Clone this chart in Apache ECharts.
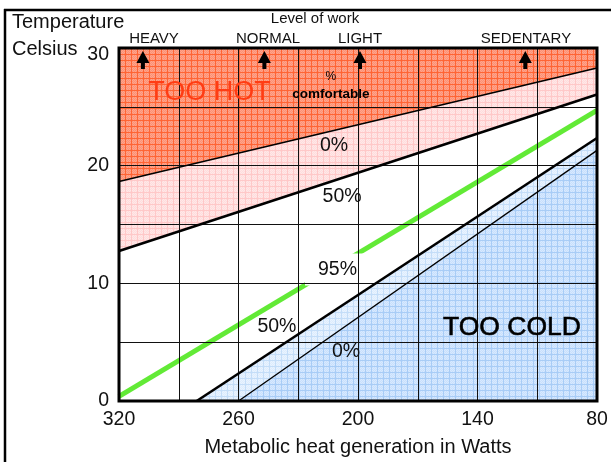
<!DOCTYPE html>
<html><head><meta charset="utf-8">
<script src="https://cdn.jsdelivr.net/npm/echarts@6/dist/echarts.min.js"></script>
<style>html,body{margin:0;padding:0;background:#fff}#c{width:611px;height:462px}</style>
</head><body><div id="c"></div>
<script>
// ---- data ----
const X_MIN = 80, X_MAX = 320, Y_MIN = 0, Y_MAX = 30;
const xTickLabels = [80, 140, 200, 260, 320];
const yTickLabels = [0, 10, 20, 30];
// boundary lines [watts, °C]
const hot0   = [[320, 18.66], [80, 28.3]];   // 0% comfortable (too hot side)
const hot50  = [[320, 12.75], [80, 26.05]];  // 50% comfortable (warm side)
const green95 = [[320, 0.4], [80, 24.7]];    // 95% comfortable
const cold50 = [[281, 0], [80, 22.35]];      // 50% comfortable (cool side)
const cold0  = [[260, 0], [80, 21.3]];       // 0% comfortable (too cold side)
// levels of work
const workNames = ['HEAVY', 'NORMAL', 'LIGHT', 'SEDENTARY'];
const workWatts = [308, 247, 199, 116];
// in-plot annotations (anchor in watts / °C)
const noteText  = ['TOO HOT', '%', 'comfortable', '0%', '50%', '50%', '0%', 'TOO COLD'];
const noteWatts = [274.6, 213.6, 213.6, 212, 208, 240.7, 206, 122.7];
const noteTemp  = [26.2, 27.55, 26.05, 21.7, 17.4, 6.3, 4.2, 6.22];
const label95Text = '95%', label95Watts = 211.55, label95Temp = 11.18;

// ---- styles ----
const FONT = '"Liberation Sans", Arial, sans-serif';
const noteStyles = [
  {fontSize: 27, color: '#ff3c14'},
  {fontSize: 12, color: '#000'},
  {fontSize: 13.5, color: '#000', fontWeight: 'bold'},
  {fontSize: 19.5, color: '#111'},
  {fontSize: 19.5, color: '#111'},
  {fontSize: 19.5, color: '#111'},
  {fontSize: 19.5, color: '#111'},
  {fontSize: 26.5, color: '#000', textBorderColor: '#000', textBorderWidth: 0.6}
];

function gridPattern(base, tex, line) {
  const c = document.createElement('canvas');
  c.width = 60; c.height = 60;
  const g = c.getContext('2d');
  g.fillStyle = base; g.fillRect(0, 0, 60, 60);
  g.fillStyle = tex;
  for (let y = 0; y < 60; y++) for (let x = y % 2; x < 60; x += 2) g.fillRect(x, y, 1, 1);
  g.fillStyle = line;
  for (let i = 0; i < 60; i += 6) { g.fillRect(i, 0, 1, 60); g.fillRect(0, i, 60, 1); }
  return {image: c, repeat: 'repeat', x: 119, y: 48};
}
const fillHot = gridPattern('#ffa48b', '#fc9074', '#ff6434');
const fillWarm = gridPattern('#ffe8e8', '#ffdcdc', '#ffc8c8');
const fillCool = gridPattern('#e9f3ff', '#ddecfd', '#c4ddf8');
const fillCold = gridPattern('#d7e9ff', '#c8dffc', '#a8ccf6');

const regions = [
  {pts: [hot0[0], hot0[1], [X_MIN, Y_MAX], [X_MAX, Y_MAX]], fill: fillHot},
  {pts: [hot50[0], hot50[1], hot0[1], hot0[0]], fill: fillWarm},
  {pts: [cold50[0], cold50[1], cold0[1], cold0[0]], fill: fillCool},
  {pts: [cold0[0], cold0[1], [X_MIN, Y_MIN]], fill: fillCold}
];

function lineSeries(data, color, width, z) {
  return {type: 'line', data: data, symbol: 'none', silent: true, z: z,
    lineStyle: {color: color, width: width, cap: 'butt'}, animation: false};
}

const chart = echarts.init(document.getElementById('c'), null, {renderer: 'canvas'});
chart.setOption({
  animation: false,
  textStyle: {fontFamily: FONT},
  grid: {left: 119, right: 14, top: 48, bottom: 57, show: true, borderColor: '#000',
         borderWidth: 3, backgroundColor: 'transparent', z: 7},
  xAxis: {
    type: 'value', inverse: true, min: X_MIN, max: X_MAX, interval: 30, z: 4,
    axisLine: {show: false}, axisTick: {show: false},
    splitLine: {show: true, lineStyle: {color: '#111', width: 1}},
    axisLabel: {formatter: v => xTickLabels.includes(v) ? String(v) : '', fontSize: 19.5,
      color: '#111', margin: 9, fontFamily: FONT, showMinLabel: true, showMaxLabel: true},
    name: 'Metabolic heat generation in Watts', nameLocation: 'middle', nameGap: 36,
    nameTextStyle: {fontSize: 20, color: '#111', fontFamily: FONT}
  },
  yAxis: {
    type: 'value', min: Y_MIN, max: Y_MAX, interval: 5, z: 4,
    axisLine: {show: false}, axisTick: {show: false},
    splitLine: {show: true, lineStyle: {color: '#111', width: 1}},
    axisLabel: {formatter: v => v === Y_MAX ? '{lo|' + v + '}' : (yTickLabels.includes(v) ? String(v) : ''),
      fontSize: 19.5, color: '#111', margin: 10, fontFamily: FONT,
      rich: {lo: {fontSize: 19.5, color: '#111', fontFamily: FONT, padding: [14, 0, 0, 0]}}}
  },
  series: [
    {type: 'custom', z: 1, silent: true, clip: true,
      data: regions.map(r => r.pts[0]),
      renderItem: (params, api) => {
        const r = regions[params.dataIndex];
        return {type: 'polygon', shape: {points: r.pts.map(p => api.coord(p))}, style: {fill: r.fill}};
      }},
    lineSeries(green95, '#62ea36', 5, 2),
    {type: 'scatter', z: 3, silent: true, symbolSize: 0, itemStyle: {opacity: 1},
      data: [[label95Watts, label95Temp]],
      label: {show: true, position: 'inside', formatter: label95Text, fontSize: 19.5, color: '#111',
        fontFamily: FONT, backgroundColor: '#fff', padding: [7, 8, 5, 13]}},
    lineSeries(hot0, '#000', 1.5, 5),
    lineSeries(hot50, '#000', 2.6, 5),
    lineSeries(cold50, '#000', 2.6, 5),
    lineSeries(cold0, '#000', 1.3, 5),
    {type: 'scatter', z: 6, silent: true, symbolSize: 0, itemStyle: {opacity: 1},
      data: noteText.map((t, i) => ({value: [noteWatts[i], noteTemp[i]], name: t,
        label: Object.assign({show: true, position: 'inside', formatter: t, fontFamily: FONT}, noteStyles[i])}))},
    {type: 'custom', z: 6, silent: true, clip: false,
      data: workWatts.map(w => [w, Y_MAX]),
      renderItem: (params, api) => {
        const p = api.coord([api.value(0), api.value(1)]);
        const x = p[0], y = p[1] + 3;
        return {type: 'polygon', shape: {points: [[x, y], [x + 6.5, y + 12], [x + 2, y + 12], [x + 2, y + 18],
          [x - 2, y + 18], [x - 2, y + 12], [x - 6.5, y + 12]]}, style: {fill: '#000'}};
      }}
  ],
  graphic: [
    {type: 'line', shape: {x1: 5, y1: 9, x2: 5, y2: 462}, style: {stroke: '#000', lineWidth: 2.5}},
    {type: 'line', shape: {x1: 4, y1: 10, x2: 611, y2: 10}, style: {stroke: '#000', lineWidth: 2.5}},
    {type: 'text', left: 12, top: 12, style: {text: 'Temperature', fontSize: 20, fill: '#111', fontFamily: FONT}},
    {type: 'text', left: 12, top: 39, style: {text: 'Celsius', fontSize: 20, fill: '#111', fontFamily: FONT}},
    {type: 'text', x: 315, y: 19, style: {text: 'Level of work', fontSize: 15, fill: '#111', fontFamily: FONT, align: 'center', verticalAlign: 'middle'}},
    ...workNames.map((n, i) => ({type: 'text', x: [154, 268, 360, 526][i], y: 39,
      style: {text: n, fontSize: 15, fill: '#111', fontFamily: FONT, align: 'center', verticalAlign: 'middle'}}))
  ]
});
</script></body></html>
